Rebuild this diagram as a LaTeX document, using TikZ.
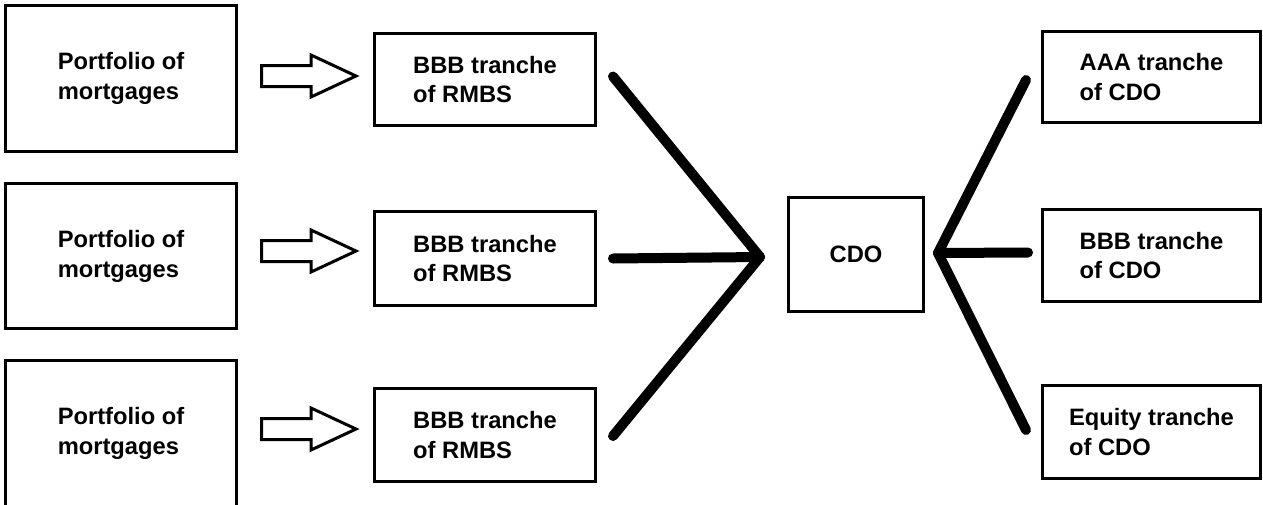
\documentclass[tikz,border=0pt]{standalone}
\usepackage{fontspec}
\setmainfont{Liberation Sans}
\usetikzlibrary{positioning}
\newdimen\pxu \pxu=0.02cm

\begin{document}
\begin{tikzpicture}[x=1\pxu,y=-1\pxu,
 box/.style={draw,line width=3\pxu,inner sep=0pt,align=left,
   font=\fontsize{13.5}{17}\selectfont\bfseries},
 fan/.style={line width=10\pxu,line cap=round,line join=round},
 blk/.style={draw,line width=3\pxu,fill=white}]
\useasboundingbox (0,0) rectangle (1263,504);
% mortgages
\node[box,minimum width=231\pxu,minimum height=146\pxu] (p1) at (121,78.5) {Portfolio of\\mortgages};
\node[box,minimum width=231\pxu,minimum height=145\pxu] (p2) at (121,256) {Portfolio of\\mortgages};
\node[box,minimum width=231\pxu,minimum height=146\pxu] (p3) at (121,433) {Portfolio of\\mortgages};
% RMBS tranches
\node[box,minimum width=221\pxu,minimum height=92\pxu] (r1) at (485,79.5) {BBB tranche\\of RMBS};
\node[box,minimum width=221\pxu,minimum height=94\pxu] (r2) at (485,258.5) {BBB tranche\\of RMBS};
\node[box,minimum width=221\pxu,minimum height=93\pxu] (r3) at (485,435) {BBB tranche\\of RMBS};
\node[box,minimum width=135\pxu,minimum height=114\pxu] (cdo) at (856,254.5) {CDO};
% CDO tranches
\node[box,minimum width=218\pxu,minimum height=91\pxu] (t1) at (1151.5,77) {AAA tranche\\of CDO};
\node[box,minimum width=218\pxu,minimum height=92\pxu] (t2) at (1151.5,255.5) {BBB tranche\\of CDO};
\node[box,minimum width=218\pxu,minimum height=93\pxu] (t3) at (1151.5,432) {Equity tranche\\of CDO};
% hollow arrows
\foreach \n/\dy in {p1/-2.5,p2/-5,p3/-4}
  \draw[blk] (\n.east) ++(23.5,\dy) ++(0,-10.5) -- ++(49.5,0) -- ++(0,-10.5) -- ++(45,21)
    -- ++(-45,21) -- ++(0,-10.5) -- ++(-49.5,0) -- cycle;
% fans
\coordinate (la) at (760,257);
\coordinate (ra) at (938,253);
\draw[fan] (r1.east) ++(16,-3) -- (la);
\draw[fan] (r2.east) ++(16,0) -- (la);
\draw[fan] (r3.east) ++(16,1) -- (la);
\draw[fan] (t1.west) ++(-15,3) -- (ra);
\draw[fan] (t2.west) ++(-13,-3) -- (ra);
\draw[fan] (t3.west) ++(-15,-2) -- (ra);
\end{tikzpicture}
\end{document}
